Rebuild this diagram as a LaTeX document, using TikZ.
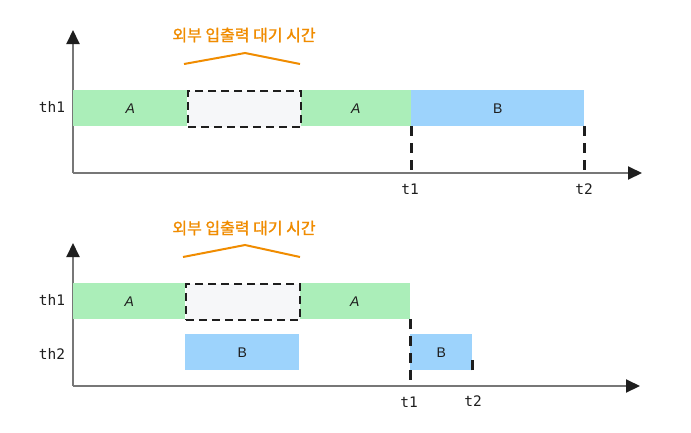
\documentclass[tikz,border=0pt]{standalone}
\usepackage{fontspec}
\setmainfont{Liberation Sans}
\newfontfamily\kofont[FakeBold=1.2]{Noto Sans CJK KR}
\newfontfamily\monofont{DejaVu Sans Mono}
\usetikzlibrary{arrows.meta}
\definecolor{gbar}{HTML}{ABEEB9}
\definecolor{bbar}{HTML}{9DD3FC}
\definecolor{wbox}{HTML}{F6F7F9}
\definecolor{axisgray}{HTML}{777777}
\definecolor{ink}{HTML}{1E1E1E}
\definecolor{orng}{HTML}{F08C00}
\tikzset{
  axis/.style={draw=axisgray, line width=2, -{Triangle[length=14, width=13, fill=ink, color=ink]}},
  bar/.style={draw=none, inner sep=0, anchor=north west, minimum height=36, text=ink, font=\fontsize{14}{14}\selectfont},
  waitbox/.style={bar, fill=wbox, draw=ink, line width=2, dash pattern=on 8 off 5},
  vdash/.style={draw=ink, line width=2.4, dash pattern=on 10 off 7},
  lbl/.style={text=ink, font=\monofont\fontsize{14.5}{14.5}\selectfont, inner sep=0},
  kolbl/.style={text=orng, font=\kofont\fontsize{16}{16}\selectfont, inner sep=0},
  brace/.style={draw=orng, line width=2},
}
\begin{document}
\begin{tikzpicture}[x=1pt,y=-1pt]
\useasboundingbox[fill=white] (0,0) rectangle (691,432);

% ---------- top chart ----------
\coordinate (o1) at (73,173);
\coordinate (ytop1) at (73,30);
\coordinate (xend1) at (642,173);
\draw[axis] (o1) -- (ytop1);
\draw[axis] (o1) -- (xend1);

\node[bar, fill=gbar, minimum width=114] (a11) at (73,90) {\itshape A};
\node[bar, fill=gbar, minimum width=111] (a12) at (300,90) {\itshape A};
\node[bar, fill=bbar, minimum width=173] (b1) at (411,90) {B};
\node[waitbox, minimum width=113] (w1) at (187,90) {};

\node[lbl] (th1a) at (52,107) {th1};
\node[lbl] (t1a) at (410,189) {t1};
\node[lbl] (t2a) at (584,189) {t2};
\draw[vdash] (a12.south east) -- (a12.south east |- o1);
\draw[vdash] (b1.south east) -- (b1.south east |- o1);

\node[kolbl] (k1) at (244,35) {외부 입출력 대기 시간};
\coordinate (br1l) at (184,64);
\coordinate (br1m) at (245,53);
\coordinate (br1r) at (300,64);
\draw[brace] (br1l) -- (br1m) -- (br1r);

% ---------- bottom chart ----------
\coordinate (o2) at (73,386);
\coordinate (ytop2) at (73,243);
\coordinate (xend2) at (640,386);
\draw[axis] (o2) -- (ytop2);
\draw[axis] (o2) -- (xend2);

\node[bar, fill=gbar, minimum width=112] (a21) at (73,283) {\itshape A};
\node[bar, fill=gbar, minimum width=111] (a22) at (299,283) {\itshape A};
\node[waitbox, minimum width=114] (w2) at (185,283) {};
\node[bar, fill=bbar, minimum width=114] (b21) at (185,334) {B};
\node[bar, fill=bbar, minimum width=62] (b22) at (410,334) {B};

\node[lbl] (th1b) at (52,300) {th1};
\node[lbl] (th2b) at (52,354) {th2};
\node[lbl] (t1b) at (409,402) {t1};
\node[lbl] (t2b) at (473,401) {t2};
\draw[vdash] (a22.south east) -- (a22.south east |- o2);
\coordinate (t2top) at (b22.south east);
\draw[draw=ink, line width=2.4] (t2top) -- ([yshift=10]t2top);

\node[kolbl] (k2) at (244,228) {외부 입출력 대기 시간};
\coordinate (br2l) at (183,257);
\coordinate (br2m) at (245,245);
\coordinate (br2r) at (300,257);
\draw[brace] (br2l) -- (br2m) -- (br2r);
\end{tikzpicture}
\end{document}
